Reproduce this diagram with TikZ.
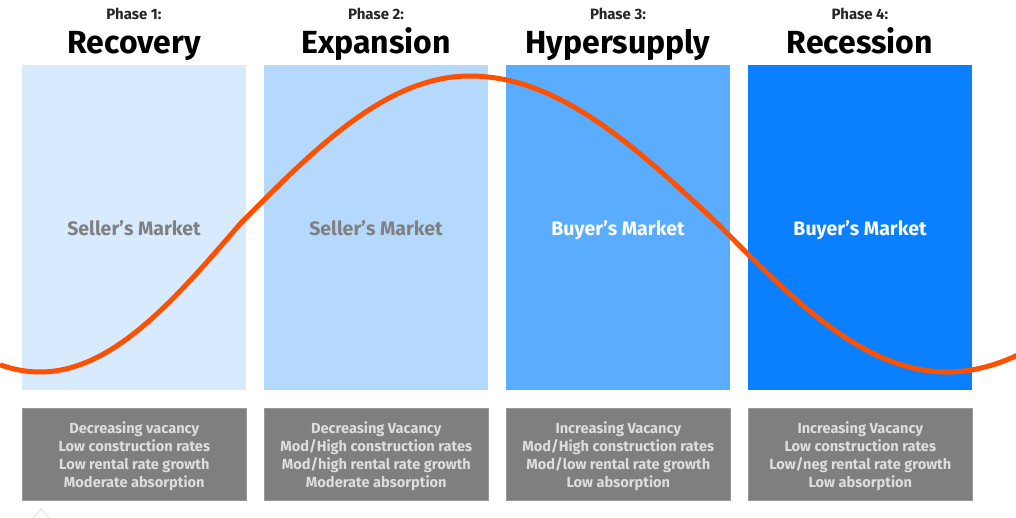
\documentclass[tikz,border=0pt]{standalone}
\usepackage{fontspec}
\setmainfont{Fira Sans}
\definecolor{pA}{HTML}{D8EAFD}
\definecolor{pB}{HTML}{B5D9FD}
\definecolor{pC}{HTML}{5AACFE}
\definecolor{pD}{HTML}{0A80FF}
\definecolor{curveC}{HTML}{FF5000}
\definecolor{infoC}{HTML}{7F7F7F}
\definecolor{infoT}{HTML}{DDDDDD}
\definecolor{mktG}{HTML}{808080}
\tikzset{
  phasebox/.style={anchor=north west, minimum width=224pt, minimum height=325pt, inner sep=0pt},
  mktlbl/.style={anchor=base, inner sep=0pt, font=\fontsize{19.5}{20}\selectfont\bfseries},
  infobox/.style={anchor=north west, fill=infoC, draw=infoC!80!white, line width=0.6pt, minimum width=224pt, minimum height=92pt, inner sep=0pt},
  infotext/.style={align=center, inner sep=0pt, text=infoT, font=\fontsize{14.6}{18}\selectfont\bfseries},
  phaselbl/.style={anchor=base, inner sep=0pt, font=\fontsize{15}{15}\selectfont\bfseries, text=black!85},
  titlelbl/.style={anchor=base, inner sep=0pt, font=\fontsize{32}{32}\selectfont\bfseries, text=black},
  cyc/.style={draw=curveC, line width=5pt, line join=round}
}
\begin{document}
\begin{tikzpicture}[x=1pt,y=-1pt]
\useasboundingbox (0,0) rectangle (1016,517);
\fill[white] (0,0) rectangle (1016,517);
% phase boxes
\node[phasebox, fill=pA] (b1) at (22,65) {};
\node[phasebox, fill=pB] (b2) at (264,65) {};
\node[phasebox, fill=pC] (b3) at (506,65) {};
\node[phasebox, fill=pD] (b4) at (748,65) {};
\node[mktlbl, text=mktG] (m1) at (134,235) {Seller’s Market};
\node[mktlbl, text=mktG] (m2) at (376,235) {Seller’s Market};
\node[mktlbl, text=white] (m3) at (618,235) {Buyer’s Market};
\node[mktlbl, text=white] (m4) at (860,235) {Buyer’s Market};
% titles
\node[phaselbl] (p1) at (134,19.5) {Phase 1:};
\node[phaselbl] (p2) at (376,19.5) {Phase 2:};
\node[phaselbl] (p3) at (618,19.5) {Phase 3:};
\node[phaselbl] (p4) at (860,19.5) {Phase 4:};
\node[titlelbl] (t1) at (134,53.5) {Recovery};
\node[titlelbl] (t2) at (376,53.5) {Expansion};
\node[titlelbl] (t3) at (618,53.5) {Hypersupply};
\node[titlelbl] (t4) at (860,53.5) {Recession};
% cycle curve
\draw[cyc]
  plot[domain=0:240, samples=60, smooth] (\x,{224+148*cos(0.45*(\x-40))})
  -- plot[domain=240:470, samples=60, smooth] (\x,{224-148*sin(0.391304*(\x-240))})
  -- plot[domain=470:718, samples=60, smooth] (\x,{224-148*cos(0.362903*(\x-470))})
  -- plot[domain=718:947, samples=60, smooth] (\x,{224+148*sin(0.393013*(\x-718))})
  -- plot[domain=947:1020, samples=30, smooth] (\x,{224+148*cos(0.391304*(\x-947))});
% info boxes
\node[infobox] (i1) at (22,408) {};
\node[infobox] (i2) at (264,408) {};
\node[infobox] (i3) at (506,408) {};
\node[infobox] (i4) at (748,408) {};
\node[infotext, yshift=-1.5pt] (x1) at (i1.center) {Decreasing vacancy\\Low construction rates\\Low rental rate growth\\Moderate absorption};
\node[infotext, yshift=-1.5pt] (x2) at (i2.center) {Decreasing Vacancy\\Mod/High construction rates\\Mod/high rental rate growth\\Moderate absorption};
\node[infotext, yshift=-1.5pt] (x3) at (i3.center) {Increasing Vacancy\\Mod/High construction rates\\Mod/low rental rate growth\\Low absorption};
\node[infotext, yshift=-1.5pt] (x4) at (i4.center) {Increasing Vacancy\\Low construction rates\\Low/neg rental rate growth\\Low absorption};
% faint chevron
\coordinate (c1) at (33,518);
\coordinate (c2) at (41,509);
\coordinate (c3) at (49,518);
\draw[black!12, line width=0.8pt] (c1) -- (c2) -- (c3);
\end{tikzpicture}
\end{document}
